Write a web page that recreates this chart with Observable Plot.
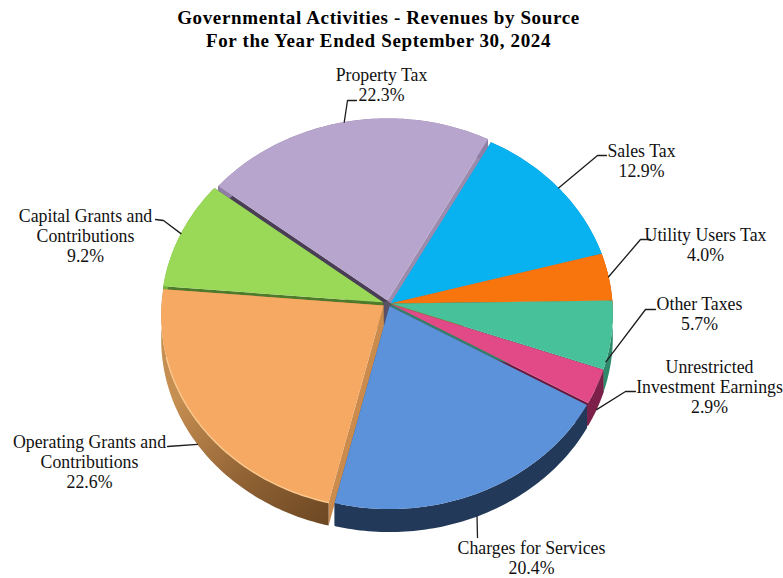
<!DOCTYPE html>
<html><head><meta charset="utf-8">
<style>
html,body{margin:0;padding:0;background:#fff}
#title{height:58px;box-sizing:border-box;padding-top:6px;text-align:center;font:bold 19px/23px "Liberation Serif",serif;letter-spacing:.63px;color:#000;width:757px}
svg{display:block}
</style>
<script src="https://cdn.jsdelivr.net/npm/d3@7"></script>
<script src="https://cdn.jsdelivr.net/npm/@observablehq/plot@0.6"></script>
</head><body>
<div id="title">Governmental Activities - Revenues by Source<br>For the Year Ended September 30, 2024</div>
<div id="chart"></div>
<script>
// Data, clockwise from the top-right boundary of the first slice
const categories = ["Sales Tax","Utility Users Tax","Other Taxes","Unrestricted\nInvestment Earnings","Charges for Services","Operating Grants and\nContributions","Capital Grants and\nContributions","Property Tax"];
const shares = [12.9,4.0,5.7,2.9,20.4,22.6,9.2,22.3];
const topColors = ["#08b2f1","#f8740c","#46c199","#e14a87","#5b92da","#f5a963","#99d957","#b7a5cd"];
const rimColors = ["#0a86b5","#b85508","#2f8a6c","#7c1f49","#22395a","url(#opRim)","#76ad3c","#8f7ea5"];
const startWall = ["#8a7b9c","#0b7fae","#c25a08","#2f8468","#6b1a3f","#cb8b4d","#4d7a2b","#4a3e56"];
const endWall   = ["#0b7fae","#c25a08","#2f8468","#6b1a3f","#2a4468","#cb8b4d","#4a3e56","#9b8cae"];
// Pie layout
const startAngle = 28.3, rx = 222, ry = 192, persp = 0.0545, depth = 23;
const apexes = [[390,303],[390,303],[390,303],[390,303.5],[389,305.5],[383,305],[383,302],[387,300]];
const drawOrder = [7,0,6,1,2,5,3,4];
// Label layout: centre of text block, leader elbow and end, leader attach tweak
const labelLayout = [
 {tx:641,ty:159.8,lw:[597,155],end:[606,155],tweak:0,rim:0},
 {tx:705,ty:243.8,lw:[640,239],end:[650,239],tweak:0,rim:0},
 {tx:699,ty:313.3,lw:[645,309],end:[655,309],tweak:8,rim:0},
 {tx:709,ty:385.8,lw:[625,391],end:[635,391],tweak:0,rim:1},
 {tx:531,ty:557,lw:[477,537],end:[477,537],tweak:1.2,rim:1},
 {tx:89,ty:460.8,lw:[167,446],end:[167,446],tweak:0,rim:1},
 {tx:85,ty:234.8,lw:[163,220],end:[155,219],tweak:0,rim:0},
 {tx:381,ty:84.3,lw:[347,100],end:[356,100],tweak:0,rim:0}
];

const rad = d => d * Math.PI / 180;
const project = (deg, apex, drop = 0, radius = 1) => {
  const u = Math.sin(rad(deg)) * radius, v = Math.cos(rad(deg)) * radius, w = 1 + persp * v;
  return {x: apex[0] + rx * u / w, y: apex[1] - ry * v / w + drop};
};
let acc = startAngle;
const slices = shares.map((s, i) => {
  const a0 = acc, a1 = acc + s * 3.6; acc = a1;
  const arc = d3.range(a0, a1, 1).concat([a1]);
  return {i, a0, a1, mid: (a0 + a1) / 2, arc, apex: apexes[i]};
});
const polyMark = (pts, fill) => Plot.line(pts, {x: "x", y: "y", fill, stroke: "none", curve: "linear"});
const pt = (a, drop = 0) => ({x: a[0], y: a[1] + drop});
const marks = [];
marks.push(() => {
  const d = d3.create("svg:defs");
  const g = d.append("linearGradient").attr("id", "opRim").attr("gradientUnits", "userSpaceOnUse")
    .attr("x1", 165).attr("y1", 350).attr("x2", 332).attr("y2", 520);
  g.append("stop").attr("offset", 0).attr("stop-color", "#c68f52");
  g.append("stop").attr("offset", .45).attr("stop-color", "#8f6133");
  g.append("stop").attr("offset", 1).attr("stop-color", "#5c3c1c");
  return d.node();
});
for (const k of drawOrder) {
  const s = slices[k];
  if (k === 5) marks.push(polyMark([pt(apexes[7]), pt(apexes[0]), pt(apexes[0], depth), pt(apexes[5], depth - 3), pt(apexes[6])], "#5a5166"));
  const top = s.arc.map(a => project(a, s.apex));
  const low = s.arc.map(a => project(a, s.apex, depth)).reverse();
  const ap = pt(s.apex), apLow = pt(s.apex, depth);
  marks.push(polyMark([ap, top[top.length - 1], low[0], apLow], endWall[k]));
  marks.push(polyMark([ap, top[0], low[low.length - 1], apLow], startWall[k]));
  marks.push(polyMark([...top, ...low], rimColors[k]));
  marks.push(polyMark([ap, ...top], topColors[k]));
  if (k === 5) marks.push(Plot.line(top.filter((_, j) => j < 62), {x: "x", y: "y", stroke: "#fbc88e", strokeWidth: 1.4, curve: "linear"}));
}
// Leaders
slices.forEach((s, i) => {
  const L = labelLayout[i];
  const p = project(s.mid + L.tweak, s.apex, L.rim ? depth : 0);
  marks.push(Plot.line([p, {x: L.lw[0], y: L.lw[1]}, {x: L.end[0], y: L.end[1]}], {x: "x", y: "y", stroke: "#1c1c1c", strokeWidth: 1.3}));
});
// Labels
const labels = slices.map((s, i) => ({x: labelLayout[i].tx, y: labelLayout[i].ty,
  text: categories[i] + "\n" + shares[i].toFixed(1) + "%"}));
marks.push(Plot.text(labels, {x: "x", y: "y", text: "text", fill: "#111", fontSize: 17.8, lineHeight: 1.13, textAnchor: "middle", lineAnchor: "middle"}));

document.getElementById("chart").append(Plot.plot({
  width: 783, height: 520, margin: 0,
  x: {domain: [0, 783], range: [0, 783], axis: null},
  y: {domain: [58, 578], range: [0, 520], axis: null},
  style: {fontFamily: '"Liberation Serif", serif', background: "#fff"},
  marks
}));
</script>
</body></html>
